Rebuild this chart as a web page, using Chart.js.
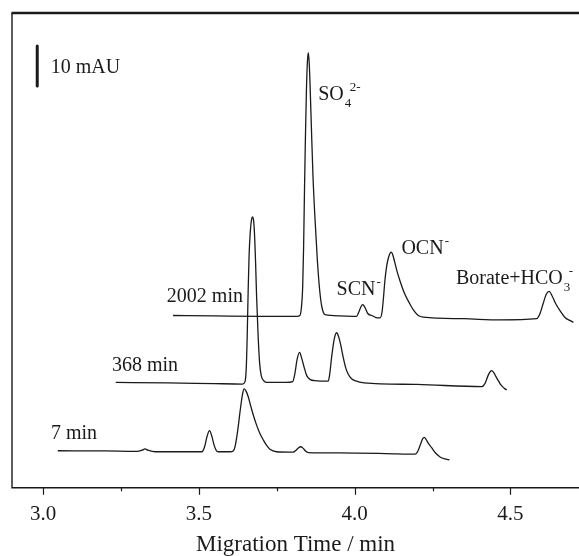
<!DOCTYPE html>
<html>
<head>
<meta charset="utf-8">
<script src="https://cdn.jsdelivr.net/npm/chart.js@4.4.0/dist/chart.umd.min.js"></script>
<style>
  html, body { margin: 0; padding: 0; background: #fff; }
  #wrap { width: 579px; height: 556px; position: relative; }
</style>
</head>
<body>
<div id="wrap"><canvas id="chart"></canvas></div>
<script>
// Electropherograms: x = migration time (min), y = absorbance (mAU, traces offset)
const t7x = [3.047, 3.20, 3.30, 3.318, 3.327, 3.336, 3.36, 3.45, 3.500, 3.509, 3.518, 3.526, 3.534, 3.541, 3.549, 3.556, 3.562, 3.58,
  3.600, 3.610, 3.616, 3.624, 3.632, 3.640, 3.645, 3.650, 3.658, 3.666, 3.674, 3.684, 3.695, 3.707, 3.718, 3.728, 3.749,
  3.79, 3.803, 3.812, 3.820, 3.827, 3.834, 3.842, 3.851, 3.95, 4.10, 4.194, 4.203, 4.212, 4.218, 4.223, 4.229, 4.237, 4.247,
  4.258, 4.274, 4.289, 4.304];
const t7y = [9.25, 9.2, 9.1, 9.4, 9.7, 9.4, 9.0, 9.0, 9.0, 9.0, 10.2, 12.8, 14.25, 13.0, 10.6, 9.3, 9.0, 9.0,
  9.0, 9.2, 10.3, 14.0, 19.0, 23.4, 24.7, 24.3, 22.8, 20.5, 18.3, 15.9, 13.7, 11.9, 10.5, 9.6, 9.0,
  8.9, 8.9, 9.4, 10.0, 10.25, 9.9, 9.2, 8.8, 8.7, 8.55, 8.4, 9.2, 11.0, 12.2, 12.6, 12.1, 11.0, 10.0,
  8.8, 7.7, 7.2, 7.0];

const t368x = [3.233, 3.40, 3.55, 3.640, 3.648, 3.652, 3.655, 3.658, 3.661, 3.665, 3.669, 3.672, 3.675, 3.678, 3.682, 3.685,
  3.690, 3.695, 3.700, 3.707, 3.717, 3.78, 3.801, 3.808, 3.815, 3.823, 3.830, 3.838, 3.846, 3.858, 3.872,
  3.915, 3.920, 3.926, 3.934, 3.942, 3.950, 3.957, 3.963, 3.971, 3.979, 3.990, 4.001, 4.03, 4.20,
  4.408, 4.418, 4.428, 4.435, 4.440, 4.446, 4.453, 4.461, 4.470, 4.479, 4.488];
const t368y = [26.3, 26.2, 26.0, 25.9, 26.5, 30, 38, 49, 58, 64, 67, 67.6, 67, 64, 56, 48,
  38, 31, 28, 26.8, 26.3, 26.3, 26.5, 28.5, 32.0, 33.8, 32.3, 30.0, 28.0, 27.0, 26.75,
  26.6, 28.5, 32.6, 37.0, 38.7, 37.3, 35.0, 32.6, 30.0, 28.4, 27.2, 26.75, 26.2, 25.8,
  25.25, 26.0, 28.0, 29.0, 29.25, 28.8, 27.8, 26.75, 25.6, 24.9, 24.4];

const t2002x = [3.417, 3.55, 3.70, 3.815, 3.824, 3.829, 3.833, 3.836, 3.839, 3.842, 3.845, 3.848, 3.851, 3.854, 3.857, 3.861,
  3.866, 3.872, 3.880, 3.888, 3.895, 3.905, 3.95, 4.006, 4.013, 4.020, 4.026, 4.033, 4.042, 4.055, 4.068, 4.081,
  4.088, 4.093, 4.097, 4.103, 4.109, 4.114, 4.117, 4.121, 4.128, 4.136, 4.145, 4.160, 4.177, 4.190, 4.204, 4.22,
  4.35, 4.467, 4.584, 4.595, 4.605, 4.615, 4.624, 4.633, 4.645, 4.659, 4.675, 4.690, 4.702];
const t2002y = [43.0, 42.9, 42.8, 42.8, 43.0, 45, 50, 60, 75, 88, 99, 106, 108.6, 106, 100, 90,
  78, 68, 57, 49, 45, 43.2, 42.9, 42.8, 43.8, 45.2, 45.7, 45.0, 43.5, 43.0, 42.5, 42.4,
  44, 48, 51.75, 55.5, 57.6, 58.6, 58.8, 58.4, 56.5, 54, 51.75, 48.5, 45.9, 44.2, 43.0, 42.6,
  42.2, 41.9, 42.2, 43.5, 46, 48.3, 49, 48, 46, 44.2, 42.5, 41.8, 41.3];

// 10 mAU scale bar
const barX = [2.981, 2.981];
const barY = [100.25, 110.25];

// x axis ticks
const xMin = 2.9;
const xMax = 4.72;
const xStep = 0.25;

// annotations (text, subscript, superscript, anchor in data units)
const labelText = ['10 mAU', '2002 min', '368 min', '7 min', 'SO', 'SCN', 'OCN', 'Borate+HCO'];
const labelSub = ['', '', '', '', '4', '', '', '3'];
const labelSup = ['', '', '', '', '2-', '-', '-', '-'];
const labelX = [3.024, 3.397, 3.221, 3.025, 3.883, 3.942, 4.150, 4.325];
const labelY = [103.5, 46.25, 29.25, 12.2, 96.75, 48.2, 58.25, 50.9];

const serif = '"Liberation Serif", "Times New Roman", serif';
const ink = '#1a1a1a';

function toPoints(xs, ys) {
    return xs.map((x, i) => ({ x: x, y: ys[i] }));
}

function traceDataset(xs, ys) {
    return {
        data: toPoints(xs, ys),
        borderColor: ink,
        borderWidth: 1.3,
        pointRadius: 0,
        fill: false,
        cubicInterpolationMode: 'monotone'
    };
}

// frame, tick marks and text labels
const decorations = {
    id: 'decorations',
    afterDraw(chart) {
        const ctx = chart.ctx;
        const area = chart.chartArea;
        const xs = chart.scales.x;
        const ys = chart.scales.y;
        ctx.save();
        ctx.strokeStyle = ink;
        ctx.lineCap = 'butt';

        // top line
        ctx.lineWidth = 2.3;
        ctx.beginPath();
        ctx.moveTo(area.left - 0.5, area.top);
        ctx.lineTo(area.right, area.top);
        ctx.stroke();

        // left + bottom
        ctx.lineWidth = 1.4;
        ctx.beginPath();
        ctx.moveTo(area.left, area.top);
        ctx.lineTo(area.left, area.bottom);
        ctx.lineTo(area.right, area.bottom);
        ctx.stroke();

        // tick marks
        ctx.lineWidth = 1.2;
        xs.ticks.forEach(t => {
            const major = Math.abs(t.value * 2 - Math.round(t.value * 2)) < 1e-6;
            const px = Math.round(xs.getPixelForValue(t.value)) + 0.5;
            ctx.beginPath();
            ctx.moveTo(px, area.bottom);
            ctx.lineTo(px, area.bottom + (major ? 7 : 3.5));
            ctx.stroke();
        });

        // labels
        ctx.fillStyle = ink;
        ctx.textBaseline = 'alphabetic';
        ctx.textAlign = 'left';
        labelText.forEach((txt, i) => {
            const px = xs.getPixelForValue(labelX[i]);
            const py = ys.getPixelForValue(labelY[i]);
            ctx.font = '20px ' + serif;
            ctx.fillText(txt, px, py);
            const end = px + ctx.measureText(txt).width;
            ctx.font = '13px ' + serif;
            if (labelSub[i]) {
                ctx.fillText(labelSub[i], end + 1, py + 7);
            }
            if (labelSup[i]) {
                ctx.fillText(labelSup[i], end + (labelSub[i] ? 6 : 1), py - 9);
            }
        });
        ctx.restore();
    }
};

new Chart(document.getElementById('chart'), {
    type: 'line',
    data: {
        datasets: [
            traceDataset(t7x, t7y),
            traceDataset(t368x, t368y),
            traceDataset(t2002x, t2002y),
            {
                data: toPoints(barX, barY),
                borderColor: ink,
                borderWidth: 3,
                borderCapStyle: 'round',
                pointRadius: 0,
                tension: 0
            }
        ]
    },
    options: {
        responsive: true,
        maintainAspectRatio: false,
        animation: false,
        parsing: false,
        layout: { padding: { top: 13, left: 12, right: 0, bottom: 0 } },
        plugins: {
            legend: { display: false },
            tooltip: { enabled: false }
        },
        scales: {
            x: {
                type: 'linear',
                min: xMin,
                max: xMax,
                grid: { display: false, drawTicks: false },
                border: { display: false },
                ticks: {
                    stepSize: xStep,
                    includeBounds: false,
                    autoSkip: false,
                    maxRotation: 0,
                    padding: 14.5,
                    color: ink,
                    font: { family: serif, size: 21 },
                    callback: v => (Math.abs(v * 2 - Math.round(v * 2)) < 1e-6 ? v.toFixed(1) : '')
                },
                title: {
                    display: true,
                    text: 'Migration Time / min',
                    color: ink,
                    font: { family: serif, size: 23, lineHeight: 1.0 },
                    padding: { top: -9, bottom: 0 }
                }
            },
            y: {
                display: false,
                min: 0,
                max: 118.5
            }
        }
    },
    plugins: [decorations]
});
</script>
</body>
</html>
